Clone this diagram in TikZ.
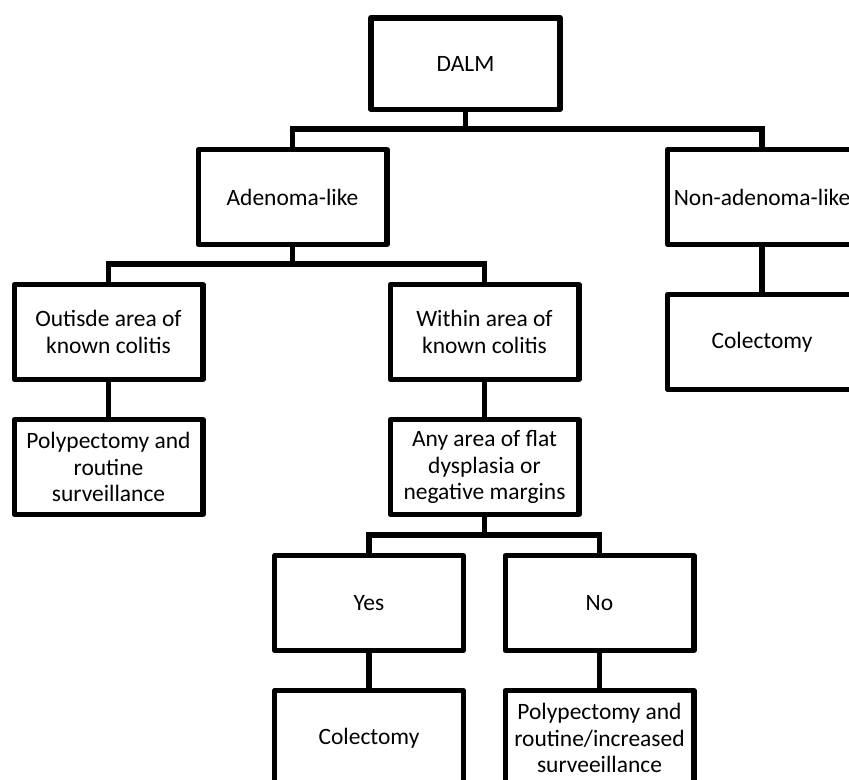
\documentclass[tikz,border=0pt]{standalone}
\usepackage{fontspec}
\setmainfont{Carlito}
\tikzset{
  box/.style={draw, line width=4.1pt, line join=round, minimum width=141.4pt,
    minimum height=70.9pt, align=center, inner sep=2pt,
    font=\fontsize{17.6}{19.9}\selectfont},
  link/.style={line width=4.1pt}
}

\begin{document}
\begin{tikzpicture}[x=0.75pt,y=-0.75pt]
\useasboundingbox (0,0) rectangle (849,779);
\clip (0,0) rectangle (849,779);
\node[box, minimum width=142pt, minimum height=68.6pt] (dalm) at (465.5,63.5) {DALM};
\node[box] (adeno) at (292.5,197) {Adenoma-like};
\node[box] (nonad) at (762,197) {Non-adenoma-like};
\node[box] (outside) at (108.5,332) {Outisde area of\\known colitis};
\node[box] (within) at (484.5,332) {Within area of\\known colitis};
\node[box] (colect) at (762,342) {Colectomy};
\node[box] (polyp) at (108.5,467) {Polypectomy and\\routine\\surveillance};
\node[box] (anyarea) at (484.5,467) {Any area of flat\\dysplasia or\\negative margins};
\node[box] (yes) at (369,603) {Yes};
\node[box] (no) at (599.5,603) {No};
\node[box] (colectyes) at (369,738) {Colectomy};
\node[box] (polypno) at (599.5,738) {Polypectomy and\\routine/increased\\surveeillance};
\coordinate (j1) at (465.5,129);
\coordinate (j2) at (292.5,264);
\coordinate (j3) at (484.5,535);
\draw[link] (dalm.south) -- (j1);
\draw[link] (adeno.north) |- (j1) -| (nonad.north);
\draw[link] (adeno.south) -- (j2);
\draw[link] (outside.north) |- (j2) -| (within.north);
\draw[link] (anyarea.south) -- (j3);
\draw[link] (yes.north) |- (j3) -| (no.north);
\draw[link] (outside) -- (polyp);
\draw[link] (within) -- (anyarea);
\draw[link] (nonad) -- (colect);
\draw[link] (yes) -- (colectyes);
\draw[link] (no) -- (polypno);
\end{tikzpicture}
\end{document}
